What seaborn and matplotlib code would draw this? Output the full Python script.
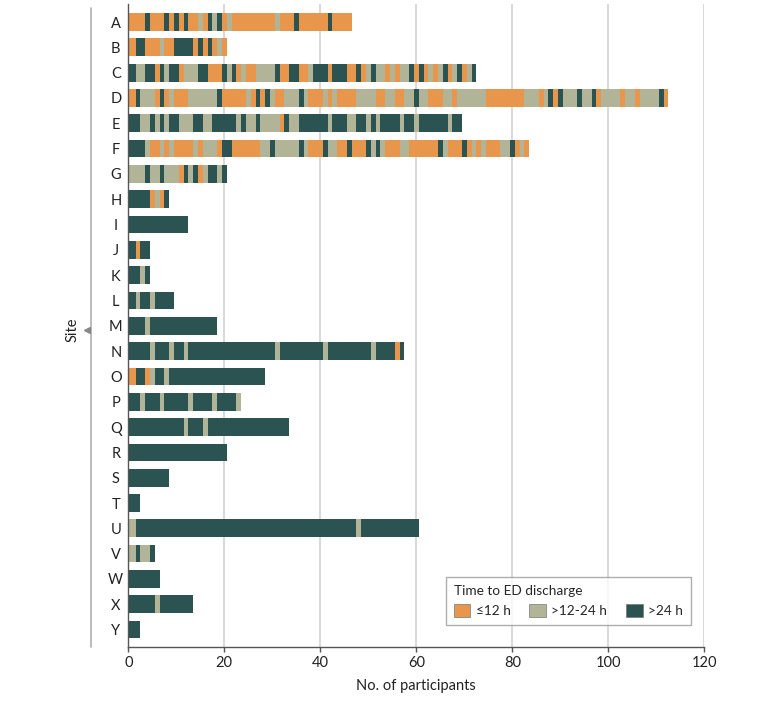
import matplotlib
matplotlib.use("Agg")
import matplotlib.pyplot as plt
from matplotlib.patches import Patch
from matplotlib.lines import Line2D
import seaborn as sns
import pandas as pd

sns.set_theme(style="white")
plt.rcParams['font.family'] = ['Lato', 'Noto Sans', 'DejaVu Sans']

# ---- data -------------------------------------------------------------
sites = list("ABCDEFGHIJKLMNOPQRSTUVWXY")
categories = ["≤12 h", ">12-24 h", ">24 h"]
codes = {"O": "≤12 h", "T": ">12-24 h", "D": ">24 h"}
colors = {"≤12 h": "#E8964B", ">12-24 h": "#B2B497", ">24 h": "#2A5351"}

# run-length sequences of participants, in order along each bar
runs_A = "O4 D1 O3 D1 O1 D1 O1 D1 O2 T1 O1 D1 T1 D1 O1 T1 O9 T1 O3 D1 O6 D1 O4"
runs_B = "O2 D2 O3 T1 O2 D4 O1 D1 O1 D1 O1 T1 O1"
runs_C = ("D2 T2 D2 O1 D1 T1 D2 O1 T3 D2 O3 D1 T1 D1 O1 T1 O2 T4 D1 O2 D2 O2 T1 D3 O1 "
          "D3 O2 D1 O1 T1 D1 T2 O1 T1 O1 T2 D1 O1 D1 O1 T1 O1 T1 D1 O1 T1 D1 O1 T1 D1")
runs_D = ("O2 D1 T3 O1 D1 O1 T1 O3 T6 D1 O5 T1 O1 D1 O1 D1 T1 O2 T3 D1 T1 O3 T1 O1 T1 "
          "O4 T4 O2 T2 O2 T2 D1 T2 O3 T2 O1 T6 O8 T3 O1 T1 D1 O1 D1 T3 D1 T2 D1 O1 T4 "
          "O1 T2 O1 T4 D1 O1")
runs_E = ("D3 T2 D1 T1 D1 T1 D2 T3 D2 T2 D5 T1 D1 T2 D1 T4 O1 D1 T2 D6 T1 D3 T2 D2 T1 "
          "D1 T1 D4 T1 D2 T1 D6 T1 D2")
runs_F = ("D4 T1 O2 T1 O1 T1 O4 T1 O1 T3 O1 D2 O6 T2 D1 T5 D1 T1 O3 D1 T2 O2 D1 O3 D1 "
          "T1 D1 T1 O3 T2 O6 D1 T1 O3 D1 O1 T1 O1 T1 O3 T2 D1 O1 T1 O1")
runs_G = "T4 D1 T2 D1 T3 O1 D1 T1 D1 O1 T1 D2 T1 D1"
runs_H = "D5 O1 T1 O1 D1"
runs_I = "D13"
runs_J = "D2 O1 D2"
runs_K = "D3 T1 D1"
runs_L = "D2 T1 D2 T1 D4"
runs_M = "D4 T1 D14"
runs_N = "D5 T1 D3 T1 D2 T1 D18 T1 D9 T1 D9 T1 D4 O1 D1"
runs_O = "O2 D2 O1 T1 D2 T1 D20"
runs_P = "D3 T1 D3 T1 D5 T1 D4 T1 D4 T1"
runs_Q = "D12 T1 D3 T1 D17"
runs_R = "D21"
runs_S = "D9"
runs_T = "D3"
runs_U = "T2 D46 T1 D12"
runs_V = "T2 D1 T2 D1"
runs_W = "D7"
runs_X = "D6 T1 D7"
runs_Y = "D3"

site_runs = [runs_A, runs_B, runs_C, runs_D, runs_E, runs_F, runs_G, runs_H, runs_I,
             runs_J, runs_K, runs_L, runs_M, runs_N, runs_O, runs_P, runs_Q, runs_R,
             runs_S, runs_T, runs_U, runs_V, runs_W, runs_X, runs_Y]

rows = []
for site, seq in zip(sites, site_runs):
    start = 0
    for tok in seq.split():
        n = int(tok[1:])
        rows.append({"site": site, "cat": codes[tok[0]], "start": start, "n": n})
        start += n
df = pd.DataFrame(rows)

# ---- figure -----------------------------------------------------------
W, H = 780, 701
fig = plt.figure(figsize=(W / 100, H / 100), dpi=100)
ax_left, ax_right, ax_top, ax_bot = 128.3, 704.3, 4.3, 647.3
ax = fig.add_axes([ax_left / W, (H - ax_bot) / H, (ax_right - ax_left) / W, (ax_bot - ax_top) / H])

ypos = {s: i for i, s in enumerate(sites)}
for cat in categories:
    sub = df[df["cat"] == cat]
    ax.barh([ypos[s] for s in sub["site"]], sub["n"], left=sub["start"] - 0.5,
            height=0.7, color=colors[cat], edgecolor="none", linewidth=0, zorder=3)

ax.set_xlim(0, 120)
ax.set_ylim(len(sites) - 0.3, -0.7)
ax.set_xticks(range(0, 121, 20))
ax.set_yticks(range(len(sites)))
ax.set_yticklabels(sites, ha="center")
for x in range(20, 121, 20):
    ax.axvline(x, color="#d6d6d6", lw=1.3, zorder=1)

for s in ["top", "right"]:
    ax.spines[s].set_visible(False)
ax.spines["left"].set_color("#555555")
ax.spines["left"].set_linewidth(1.0)
ax.spines["bottom"].set_color("#555555")
ax.spines["bottom"].set_linewidth(1.0)
ax.spines["left"].set_zorder(5)

ax.tick_params(axis="y", length=0, pad=9, labelsize=10.5, labelcolor="#222222")
ax.tick_params(axis="x", length=3.5, width=1, color="#555555", pad=3,
               labelsize=10.5, labelcolor="#222222", bottom=True)
ax.set_xlabel("No. of participants", fontsize=10.5, color="#222222", labelpad=6)
ax.set_ylabel("")

# left bracket line, "Site" label and marker
fig.add_artist(Line2D([90.7 / W, 90.7 / W], [1 - 8 / H, 1 - 647 / H],
                      transform=fig.transFigure, color="#b0b0b0", lw=1.2))
fig.text(73 / W, 1 - 330 / H, "Site", rotation=90, ha="center", va="center",
         fontsize=10.5, color="#222222")
fig.add_artist(Line2D([86.5 / W], [1 - 330 / H], marker="<", markersize=4.5,
                      color="#888888", linestyle="none", transform=fig.transFigure))

handles = [Patch(facecolor=colors[c], edgecolor="#777777", linewidth=0.5, label=c)
           for c in categories]
leg = ax.legend(handles=handles, title="Time to ED discharge", ncol=3,
                loc="lower right", bbox_to_anchor=(691 / W, (H - 625) / H),
                bbox_transform=fig.transFigure, borderaxespad=0,
                fontsize=9.8, title_fontsize=9.8, frameon=True, fancybox=False,
                handlelength=1.2, handleheight=1.1, handletextpad=0.4,
                columnspacing=1.4, borderpad=0.6, alignment="left")
leg.get_frame().set_edgecolor("#9a9a9a")
leg.get_frame().set_linewidth(1.0)
leg.set_zorder(10)

fig.savefig("out.png", dpi=100)
